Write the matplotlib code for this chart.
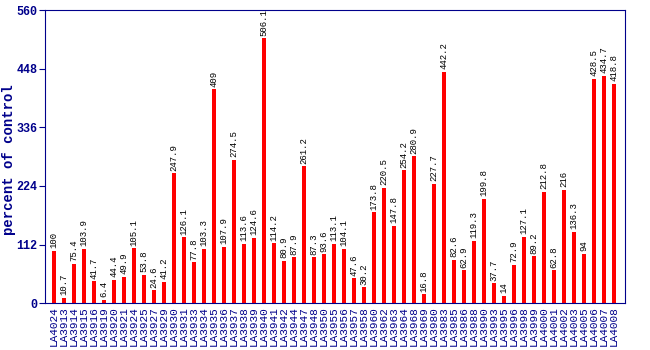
#!/usr/bin/env python3

import matplotlib
matplotlib.use("Agg")
import matplotlib.pyplot as plt

# bar chart: percent of control per accession

accessions = ["LA4024", "LA3913", "LA3914", "LA3915", "LA3916", "LA3919", "LA3920",
              "LA3921", "LA3924", "LA3925", "LA3927", "LA3929", "LA3930", "LA3931",
              "LA3933", "LA3934", "LA3935", "LA3936", "LA3937", "LA3938", "LA3939",
              "LA3940", "LA3941", "LA3942", "LA3944", "LA3947", "LA3948", "LA3950",
              "LA3955", "LA3956", "LA3957", "LA3958", "LA3960", "LA3962", "LA3963",
              "LA3964", "LA3968", "LA3969", "LA3980", "LA3983", "LA3985", "LA3986",
              "LA3988", "LA3990", "LA3993", "LA3995", "LA3996", "LA3998", "LA3999",
              "LA4000", "LA4001", "LA4002", "LA4003", "LA4005", "LA4006", "LA4007",
              "LA4008"]
values = [100, 10.7, 75.4, 103.9, 41.7, 6.4, 44.4, 49.9, 105.1, 53.8, 24.6, 41.2,
          247.9, 126.1, 77.8, 103.3, 409, 107.9, 274.5, 113.6, 124.6, 506.1, 114.2,
          80.9, 87.9, 261.2, 87.3, 93.6, 113.1, 104.1, 47.6, 30.2, 173.8, 220.5,
          147.8, 254.2, 280.9, 16.8, 227.7, 442.2, 82.6, 62.9, 119.3, 199.8, 37.7,
          14, 72.9, 127.1, 89.2, 212.8, 62.8, 216, 136.3, 94, 428.5, 434.7, 418.8]
yticks = [0, 112, 224, 336, 448, 560]

navy = "#00008b"
mono = ["Liberation Mono", "DejaVu Sans Mono"]

fig = plt.figure(figsize=(6.5, 3.5), dpi=100)
ax = fig.add_axes([0.069, 0.134, 0.8925, 0.837])

x = list(range(len(values)))
ax.bar(x, values, width=0.4, color="#ff0000")

for xi, v in zip(x, values):
    label = f"{v:g}"
    ax.text(xi, v + 5, label, rotation=90, ha="center", va="bottom",
            fontsize=6.5, family=mono, color="black")

ax.set_xlim(-0.9, 57.1)
ax.set_ylim(0, 560)
ax.set_yticks(yticks)
ax.set_yticklabels([str(t) for t in yticks], family=mono, fontweight="bold",
                   fontsize=8.5, color=navy)
ax.set_xticks(x)
ax.set_xticklabels(accessions, rotation=90, family=mono, fontsize=8, color=navy)
ax.tick_params(axis="both", colors=navy, length=4)
ax.tick_params(axis="y", pad=1.5)
ax.tick_params(axis="x", length=0, pad=2)

for sp in ax.spines.values():
    sp.set_color(navy)

fig.text(9 / 650, 0.545, "percent of control", rotation=90, ha="center",
         va="center", family=mono, fontsize=10, fontweight="bold", color=navy)

fig.savefig("out.png", dpi=100)
